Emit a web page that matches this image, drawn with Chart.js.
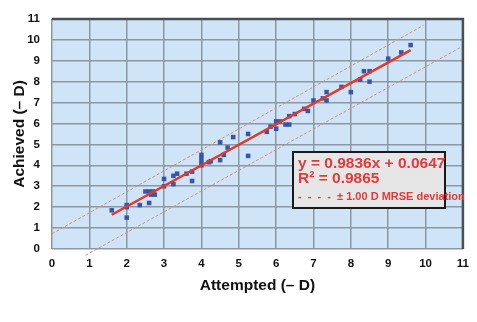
<!DOCTYPE html>
<html>
<head>
<meta charset="utf-8">
<script src="https://cdn.jsdelivr.net/npm/chart.js@4"></script>
<style>
  html, body { margin: 0; padding: 0; background: #fff; }
  #wrap { position: relative; width: 477px; height: 322px; }
  #fitBox {
    position: absolute; left: 292px; top: 151px; width: 150px; height: 54px;
    background: #e6e6e6; border: 2px solid #1a1a1a;
    font-family: "Liberation Sans", Arial, sans-serif; font-weight: bold; color: #e23a3a;
    white-space: nowrap;
  }
  #fitBox .eq { position: absolute; left: 4px; top: 1px; font-size: 15.5px; line-height: 17px; }
  #fitBox .r2 { position: absolute; left: 4px; top: 16px; font-size: 15.5px; line-height: 17px; }
  #fitBox .dev { position: absolute; left: 4px; top: 37px; font-size: 11px; line-height: 12px; }
</style>
</head>
<body>
<div id="wrap">
  <canvas id="chart" width="477" height="322"></canvas>
  <div id="fitBox">
    <div class="eq">y = 0.9836x + 0.0647</div>
    <div class="r2">R² = 0.9865</div>
    <div class="dev">-&nbsp; -&nbsp; -&nbsp; -&nbsp; ± 1.00 D MRSE deviation</div>
  </div>
</div>
<script>
// Measured points, dioptres
const attemptedD = [1.6, 2.0, 2.0, 2.0, 2.35, 2.6, 2.5, 2.6, 2.7, 2.75, 2.65, 3.0, 3.0, 3.25, 3.25, 3.35, 3.6, 3.75, 3.75,
  4.0, 4.0, 4.0, 4.0, 4.2, 4.25, 4.5, 4.5, 4.6, 4.7, 4.85, 5.25, 5.25, 5.75, 5.85, 6.0, 6.0, 6.1, 6.25, 6.35, 6.35, 6.5,
  6.75, 6.85, 7.0, 7.25, 7.35, 7.35, 7.75, 8.0, 8.25, 8.35, 8.5, 8.5, 9.0, 9.35, 9.6];
const achievedD = [1.85, 2.1, 2.0, 1.5, 2.1, 2.2, 2.75, 2.75, 2.75, 2.6, 2.6, 3.35, 3.0, 3.5, 3.1, 3.6, 3.6, 3.7, 3.25,
  4.5, 4.3, 4.1, 4.0, 4.15, 4.2, 5.1, 4.25, 4.5, 4.85, 5.35, 5.5, 4.45, 5.6, 5.85, 6.1, 5.75, 6.1, 5.95, 5.95, 6.35, 6.45,
  6.7, 6.6, 7.1, 7.2, 7.5, 7.1, 7.75, 7.5, 8.1, 8.5, 8.5, 8.0, 9.1, 9.4, 9.75];

// Linear fit y = 0.9836x + 0.0647, drawn over the data range
const fitX = [1.6, 9.6];
const fitY = [0.9836 * 1.6 + 0.0647, 0.9836 * 9.6 + 0.0647];

// ± 1.00 D deviation guides (end points)
const upperX = [0, 9.95];
const upperY = [0.73, 10.7];
const lowerX = [0.9, 11];
const lowerY = [-0.3, 9.7];

const ticks = [0, 1, 2, 3, 4, 5, 6, 7, 8, 9, 10, 11];

const COLOURS = {
  plotBg: '#cfe4f6',
  grid:   '#8b97a2',
  frame:  '#4a4f55',
  points: '#3856a8',
  fit:    '#e2392c',
  guide:  '#d98a7a',
};

const toXY = (xs, ys) => xs.map((x, i) => ({ x, y: ys[i] }));

// Light blue plot area + dark top/right frame
const plotFrame = {
  id: 'plotFrame',
  beforeDraw(chart) {
    const { ctx, chartArea: a } = chart;
    ctx.save();
    ctx.fillStyle = COLOURS.plotBg;
    ctx.fillRect(a.left, a.top, a.right - a.left, a.bottom - a.top);
    ctx.restore();
  },
  afterDatasetsDraw(chart) {
    const { ctx, chartArea: a } = chart;
    ctx.save();
    ctx.strokeStyle = COLOURS.frame;
    ctx.lineWidth = 2.5;
    ctx.beginPath();
    ctx.moveTo(a.left, a.top);
    ctx.lineTo(a.right, a.top);
    ctx.lineTo(a.right, a.bottom);
    ctx.stroke();
    ctx.restore();
  },
};

const tickFont = { family: '"Liberation Sans", Arial, sans-serif', size: 11.5, weight: 'bold' };
const titleFont = { family: '"Liberation Sans", Arial, sans-serif', size: 15.5, weight: 'bold' };

new Chart(document.getElementById('chart'), {
  type: 'scatter',
  data: {
    datasets: [
      {
        label: 'Upper',
        type: 'line',
        data: toXY(upperX, upperY),
        borderColor: COLOURS.guide,
        borderWidth: 1,
        borderDash: [3, 2],
        pointRadius: 0,
        clip: false,
        order: 3,
      },
      {
        label: 'Lower',
        type: 'line',
        data: toXY(lowerX, lowerY),
        borderColor: COLOURS.guide,
        borderWidth: 1,
        borderDash: [3, 2],
        pointRadius: 0,
        clip: false,
        order: 3,
      },
      {
        label: 'Data',
        data: toXY(attemptedD, achievedD),
        pointStyle: 'rect',
        pointRadius: 3.2,
        pointHoverRadius: 3.2,
        backgroundColor: COLOURS.points,
        borderColor: COLOURS.points,
        borderWidth: 0,
        order: 2,
      },
      {
        label: 'Fit',
        type: 'line',
        data: toXY(fitX, fitY),
        borderColor: COLOURS.fit,
        borderWidth: 2.5,
        pointRadius: 0,
        order: 1,
      },
    ],
  },
  options: {
    responsive: false,
    animation: false,
    layout: { padding: { top: 14, right: 11, left: 2, bottom: 27 } },
    plugins: { legend: { display: false }, tooltip: { enabled: false } },
    scales: {
      x: {
        type: 'linear',
        min: 0,
        max: 11,
        afterBuildTicks(axis) { axis.ticks = ticks.map(v => ({ value: v })); },
        afterFit(axis) { axis.height = 46; },
        ticks: { font: tickFont, color: '#111', padding: 8, callback: v => String(v) },
        grid: { color: COLOURS.grid, lineWidth: 1.5, drawTicks: false },
        border: { display: false },
        title: { display: true, text: 'Attempted (– D)', font: titleFont, color: '#111', padding: { top: 4, bottom: 0 } },
      },
      y: {
        type: 'linear',
        min: 0,
        max: 11,
        afterBuildTicks(axis) { axis.ticks = ticks.map(v => ({ value: v })); },
        afterFit(axis) { axis.width = 50; },
        ticks: { font: tickFont, color: '#111', padding: 12, callback: v => String(v) },
        grid: { color: COLOURS.grid, lineWidth: 1.5, drawTicks: false },
        border: { display: false },
        title: { display: true, text: 'Achieved (– D)', font: titleFont, color: '#111', padding: { top: 8, bottom: 0 } },
      },
    },
  },
  plugins: [plotFrame],
});
</script>
</body>
</html>
